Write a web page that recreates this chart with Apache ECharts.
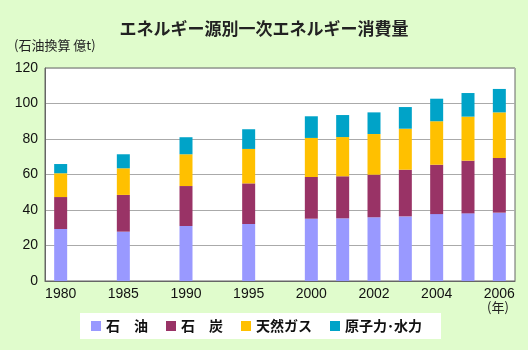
<!DOCTYPE html>
<html>
<head>
<meta charset="utf-8">
<script src="https://cdn.jsdelivr.net/npm/echarts@6/dist/echarts.min.js"></script>
<style>
  html, body { margin: 0; padding: 0; background: #e0fccc; }
  #chart { width: 528px; height: 350px; }
</style>
</head>
<body>
<div id="chart"></div>
<script>
// 年（空白は間隔）
var years = ['1980', '', '1985', '', '1990', '', '1995', '', '2000', '2001', '2002', '2003', '2004', '2005', '2006'];
var shownYears = ['1980', '1985', '1990', '1995', '2000', '2002', '2004', '2006'];
// 石油換算 億t
var oil     = [29.3, null, 27.8, null, 31.0, null, 32.1, null, 35.1, 35.3, 35.9, 36.4, 37.7, 38.1, 38.5];
var coal    = [18.0, null, 20.7, null, 22.5, null, 22.9, null, 23.5, 23.7, 24.0, 26.3, 27.8, 29.7, 30.8];
var gas     = [13.4, null, 15.0, null, 17.9, null, 19.4, null, 22.0, 22.1, 22.9, 23.1, 24.5, 24.8, 25.7];
var nuclear = [5.2, null, 7.9, null, 9.6, null, 11.1, null, 12.2, 12.4, 12.2, 12.2, 12.7, 13.3, 13.2];
var seriesNames = ['石　油', '石　炭', '天然ガス', '原子力･水力'];
var seriesColors = ['#9999ff', '#993366', '#ffc000', '#00a3c8'];

var chart = echarts.init(document.getElementById('chart'));
var font = '"Noto Sans CJK JP", sans-serif';

var option = {
  backgroundColor: '#e0fccc',
  animation: false,
  title: {
    text: 'エネルギー源別一次エネルギー消費量',
    left: 'center',
    top: 15,
    textStyle: { fontSize: 17, fontWeight: 'bold', color: '#222', fontFamily: font }
  },
  legend: {
    left: 80,
    top: 313,
    padding: [6, 19, 6, 11],
    backgroundColor: '#fff',
    itemWidth: 10,
    itemHeight: 10,
    itemGap: 18,
    icon: 'rect',
    data: seriesNames,
    textStyle: { fontSize: 14, fontWeight: 'bold', color: '#111', fontFamily: font }
  },
  grid: {
    left: 45,
    right: 13,
    top: 68,
    bottom: 69,
    show: true,
    backgroundColor: '#fff',
    borderColor: '#666',
    borderWidth: 1
  },
  xAxis: {
    type: 'category',
    data: years,
    axisLine: { lineStyle: { color: '#666' } },
    axisTick: { inside: true, length: 4, interval: 0, lineStyle: { color: '#666' } },
    axisLabel: {
      interval: function (i, v) { return shownYears.indexOf(v) >= 0; },
      fontSize: 14,
      color: '#111',
      margin: 6,
      fontFamily: 'Liberation Sans, sans-serif'
    }
  },
  yAxis: {
    type: 'value',
    min: 0,
    max: 120,
    interval: 20,
    axisLine: { show: true, lineStyle: { color: '#666' } },
    axisTick: { show: false },
    splitLine: { lineStyle: { color: '#aaa' } },
    axisLabel: { fontSize: 14, color: '#111', margin: 7, fontFamily: 'Liberation Sans, sans-serif' }
  },
  graphic: [
    {
      type: 'text', left: 14, top: 39,
      style: { text: '(石油換算 億t)', fontSize: 13, fill: '#222', fontFamily: font }
    },
    {
      type: 'text', left: 487, top: 301,
      style: { text: '(年)', fontSize: 13, fill: '#222', fontFamily: font }
    }
  ],
  series: [oil, coal, gas, nuclear].map(function (d, i) {
    return {
      name: seriesNames[i],
      type: 'bar',
      stack: 'total',
      barWidth: 13,
      itemStyle: { color: seriesColors[i] },
      data: d
    };
  })
};
chart.setOption(option);
</script>
</body>
</html>
